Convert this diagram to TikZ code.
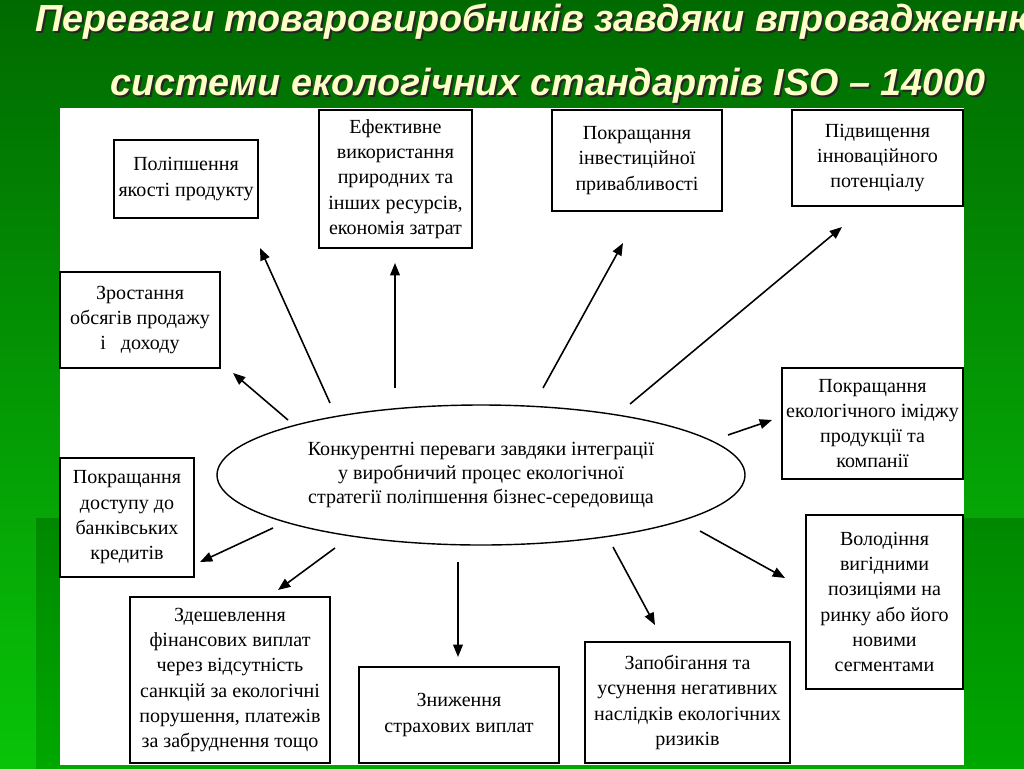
\documentclass[tikz,border=0pt]{standalone}
\usepackage{fontspec}
\setmainfont{Liberation Serif}
\newfontfamily\titlefont{Liberation Sans}
\usetikzlibrary{shapes.geometric,arrows.meta}

\definecolor{bgtop}{RGB}{0,106,0}
\definecolor{bgbot}{RGB}{8,196,8}
\definecolor{lowtop}{RGB}{0,136,0}
\definecolor{lowbot}{RGB}{0,168,0}
\definecolor{titlecream}{RGB}{255,255,200}

\begin{document}
\begin{tikzpicture}[
        x=0.02cm,
        y=-0.02cm,
        every node/.style={font=\fontsize{11.4}{14.4}\selectfont},
        box/.style 2 args={
            rectangle,
            draw=black,
            line width=0.8pt,
            fill=white,
            align=center,
            inner sep=0pt,
            minimum width=#1*0.02cm,
            minimum height=#2*0.02cm
        },
        core/.style={
            ellipse,
            draw=black,
            line width=0.8pt,
            align=center,
            inner sep=0pt,
            minimum width=528*0.02cm,
            minimum height=140*0.02cm,
            font=\fontsize{11.4}{13.4}\selectfont
        },
        heading/.style={
            anchor=base west,
            inner sep=0pt,
            font=\titlefont\bfseries\itshape\fontsize{21.5}{25}\selectfont
        },
        arrow/.style={
            -{Triangle[length=7pt,width=5.5pt]},
            line width=0.9pt
        }
    ]

    % background
    \useasboundingbox (0,0) rectangle (1024,768);
    \shade[top color=bgtop, bottom color=bgbot] (0,0) rectangle (1024,768);
    \shade[top color=lowtop, bottom color=lowbot] (36,518) rectangle (1024,768);
    \fill[white] (60,108) rectangle (964,765);

    % title
    \node[heading, text=black!85] (ttlAs) at (37,33)
    {Переваги товаровиробників завдяки впровадженню};
    \node[heading, text=titlecream] (ttlA) at (35,31)
    {Переваги товаровиробників завдяки впровадженню};
    \node[heading, text=black!85] (ttlBs) at (112,97)
    {системи екологічних стандартів ISO – 14000};
    \node[heading, text=titlecream] (ttlB) at (110,95)
    {системи екологічних стандартів ISO – 14000};

    % main node
    \node[core] (core) at (481,475)
    {Конкурентні переваги завдяки інтеграції\\
     у виробничий процес екологічної\\
     стратегії поліпшення бізнес-середовища};

    % boxes
    \node[box={144}{78}] (quality) at (186,179)
    {Поліпшення\\якості продукту};
    \node[box={153}{138}] (resources) at (395.5,179)
    {Ефективне\\використання\\природних та\\інших ресурсів,\\економія затрат};
    \node[box={170}{101}] (invest) at (637,160.5)
    {Покращання\\інвестиційної\\привабливості};
    \node[box={171}{96}] (innov) at (877.5,158)
    {Підвищення\\інноваційного\\потенціалу};
    \node[box={160}{96}] (sales) at (140,320)
    {Зростання\\обсягів продажу\\і\ \ \ доходу};
    \node[box={181}{111}] (image) at (872.5,423.5)
    {Покращання\\екологічного іміджу\\продукції та\\компанії};
    \node[box={134}{119}] (credit) at (127,517.5)
    {Покращання\\доступу до\\банківських\\кредитів};
    \node[box={157}{174}] (market) at (884.5,602)
    {Володіння\\вигідними\\позиціями на\\ринку або його\\новими\\сегментами};
    \node[box={200}{166}] (payments) at (230,680)
    {Здешевлення\\фінансових виплат\\через відсутність\\санкцій за екологічні\\порушення, платежів\\за забруднення тощо};
    \node[box={200}{96}] (insurance) at (459,715)
    {Зниження\\страхових виплат};
    \node[box={205}{121}] (risks) at (687.5,702.5)
    {Запобігання та\\усунення негативних\\наслідків екологічних\\ризиків};

    % arrow ends
    \coordinate (qualityT) at (330,403);  \coordinate (qualityH) at (260,248);
    \coordinate (resourcesT) at (395,388); \coordinate (resourcesH) at (395,263);
    \coordinate (investT) at (543,388);  \coordinate (investH) at (623,243);
    \coordinate (innovT) at (630,404);   \coordinate (innovH) at (842,227);
    \coordinate (salesT) at (288,420);   \coordinate (salesH) at (233,373);
    \coordinate (imageT) at (728,435);   \coordinate (imageH) at (772,420);
    \coordinate (creditT) at (273,528);  \coordinate (creditH) at (200,562);
    \coordinate (marketT) at (700,531);  \coordinate (marketH) at (785,578);
    \coordinate (paymentsT) at (335,548); \coordinate (paymentsH) at (278,590);
    \coordinate (insuranceT) at (458,562); \coordinate (insuranceH) at (458,657);
    \coordinate (risksT) at (613,547);   \coordinate (risksH) at (655,625);

    % arrows
    \foreach \n in {quality,resources,invest,innov,sales,image,credit,market,payments,insurance,risks}
        \draw[arrow] (\n T) -- (\n H);

    \end{tikzpicture}
\end{document}
